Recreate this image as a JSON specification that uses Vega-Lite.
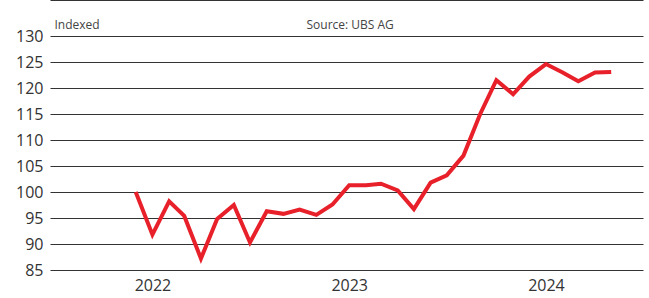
{
  "$schema": "https://vega.github.io/schema/vega-lite/v6.json",
  "width": 593,
  "height": 234,
  "autosize": {"type": "none"},
  "padding": {"left": 50, "top": 36, "right": 6, "bottom": 28},
  "background": "white",
  "config": {
    "font": "Open Sans",
    "view": {"stroke": null},
    "axis": {"labelFont": "Open Sans", "titleFont": "Open Sans"}
  },
  "data": {
    "values": [
      {"date": "2021-12-01", "value": 100},
      {"date": "2022-01-01", "value": 91.8},
      {"date": "2022-02-01", "value": 98.2},
      {"date": "2022-03-01", "value": 95.4},
      {"date": "2022-04-01", "value": 87.2},
      {"date": "2022-05-01", "value": 94.8},
      {"date": "2022-06-01", "value": 97.5},
      {"date": "2022-07-01", "value": 90.3},
      {"date": "2022-08-01", "value": 96.3},
      {"date": "2022-09-01", "value": 95.8},
      {"date": "2022-10-01", "value": 96.6},
      {"date": "2022-11-01", "value": 95.6},
      {"date": "2022-12-01", "value": 97.6},
      {"date": "2023-01-01", "value": 101.3},
      {"date": "2023-02-01", "value": 101.3},
      {"date": "2023-03-01", "value": 101.6},
      {"date": "2023-04-01", "value": 100.3},
      {"date": "2023-05-01", "value": 96.7},
      {"date": "2023-06-01", "value": 101.8},
      {"date": "2023-07-01", "value": 103.2},
      {"date": "2023-08-01", "value": 107.0},
      {"date": "2023-09-01", "value": 115.0},
      {"date": "2023-10-01", "value": 121.5},
      {"date": "2023-11-01", "value": 118.8},
      {"date": "2023-12-01", "value": 122.2},
      {"date": "2024-01-01", "value": 124.6},
      {"date": "2024-02-01", "value": 123.0},
      {"date": "2024-03-01", "value": 121.3},
      {"date": "2024-04-01", "value": 123.0},
      {"date": "2024-05-01", "value": 123.1}
    ]
  },
  "resolve": {"axis": {"x": "independent"}},
  "layer": [
    {
      "mark": {"type": "point", "opacity": 0},
      "encoding": {
        "x": {
          "field": "date", "type": "temporal",
          "scale": {"type": "utc", "domain": [{"year": 2021, "month": 6, "date": 25, "utc": true}, {"year": 2024, "month": 6, "date": 29, "utc": true}]},
          "axis": {
            "orient": "top", "offset": 36, "domain": true, "domainColor": "#333333", "domainWidth": 1.2,
            "ticks": false, "labels": false, "grid": false,
            "title": "Source: UBS AG", "titleX": 256, "titleY": 24, "titleAlign": "left", "titleBaseline": "middle",
            "titleFontSize": 12, "titleFontWeight": "normal", "titleColor": "#444444", "titleAngle": 0
          }
        },
        "y": {
          "field": "value", "type": "quantitative",
          "scale": {"domain": [85, 130], "nice": false, "zero": false},
          "axis": {
            "values": [85, 90, 95, 100, 105, 110, 115, 120, 125, 130],
            "tickCount": 10, "labelOverlap": false,
            "domain": false, "ticks": false, "grid": true, "gridColor": "#333333", "gridWidth": 1.2,
            "labelFontSize": 16, "labelColor": "#333333", "labelPadding": 7,
            "title": "Indexed", "titleAngle": 0, "titleAlign": "left", "titleBaseline": "middle",
            "titleX": 4, "titleY": -12, "titleFontSize": 12, "titleFontWeight": "normal", "titleColor": "#444444"
          }
        }
      }
    },
    {
      "mark": {"type": "line", "color": "#e8202a", "strokeWidth": 4, "strokeJoin": "miter", "strokeCap": "butt"},
      "encoding": {
        "x": {
          "field": "date", "type": "temporal",
          "axis": {
            "orient": "bottom", "domain": false, "ticks": false, "grid": false,
            "tickCount": "year", "format": "%Y", "formatType": "utc",
            "labelFontSize": 16, "labelColor": "#333333", "labelPadding": 7, "title": null
          }
        },
        "y": {
          "field": "value", "type": "quantitative",
          "axis": {
            "values": [85, 90, 95, 100, 105, 110, 115, 120, 125, 130],
            "tickCount": 10, "labelOverlap": false,
            "domain": false, "ticks": false, "grid": true, "gridColor": "#333333", "gridWidth": 1.2,
            "labelFontSize": 16, "labelColor": "#333333", "labelPadding": 7,
            "title": "Indexed", "titleAngle": 0, "titleAlign": "left", "titleBaseline": "middle",
            "titleX": 4, "titleY": -12, "titleFontSize": 12, "titleFontWeight": "normal", "titleColor": "#444444"
          }
        }
      }
    }
  ]
}
